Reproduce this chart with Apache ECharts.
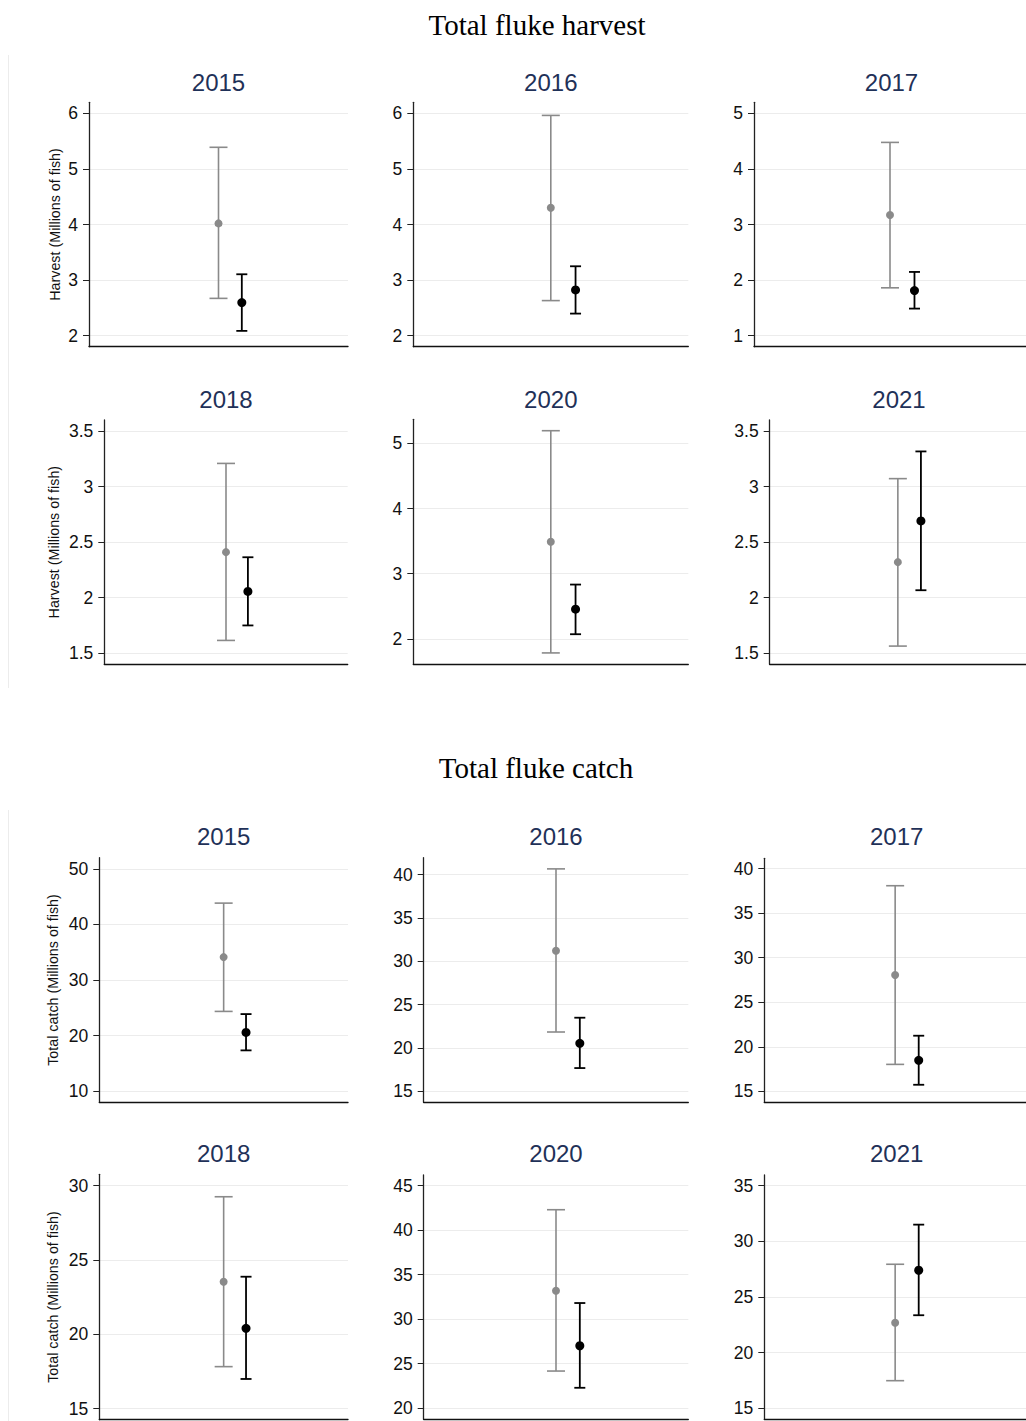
<!DOCTYPE html>
<html><head><meta charset="utf-8">
<script src="https://cdn.jsdelivr.net/npm/echarts@6/dist/echarts.min.js"></script>
<style>html,body{margin:0;padding:0;background:#fff}#c{width:1026px;height:1421px}</style>
</head><body><div id="c"></div>
<script>
// ---------- data ----------
const years = ['2015', '2016', '2017', '2018', '2020', '2021'];
const sectionTitles = ['Total fluke harvest', 'Total fluke catch'];
const yNames = ['Harvest (Millions of fish)', 'Total catch (Millions of fish)'];

// harvest (millions of fish): gray estimate with CI, black estimate with CI
const harvestGray   = [4.02, 4.30, 3.17, 2.41, 3.49, 2.32];
const harvestGrayLo = [2.67, 2.63, 1.86, 1.615, 1.785, 1.564];
const harvestGrayHi = [5.39, 5.964, 4.478, 3.209, 5.195, 3.072];
const harvestBlack   = [2.594, 2.822, 1.81, 2.056, 2.456, 2.691];
const harvestBlackLo = [2.085, 2.396, 1.486, 1.75, 2.072, 2.067];
const harvestBlackHi = [3.104, 3.248, 2.146, 2.364, 2.834, 3.317];

// catch (millions of fish)
const catchGray   = [34.12, 31.22, 28.06, 23.54, 33.2, 22.69];
const catchGrayLo = [24.35, 21.84, 18.02, 17.83, 24.18, 17.48];
const catchGrayHi = [43.83, 40.66, 38.09, 29.26, 42.3, 27.94];
const catchBlack   = [20.57, 20.53, 18.47, 20.41, 27.02, 27.4];
const catchBlackLo = [17.34, 17.68, 15.73, 17.0, 22.3, 23.36];
const catchBlackHi = [23.87, 23.49, 21.24, 23.88, 31.82, 31.5];

// tick labels
const harvestTicks = [[2,3,4,5,6],[2,3,4,5,6],[1,2,3,4,5],[1.5,2,2.5,3,3.5],[2,3,4,5],[1.5,2,2.5,3,3.5]];
const catchTicks = [[10,20,30,40,50],[15,20,25,30,35,40],[15,20,25,30,35,40],[15,20,25,30],[20,25,30,35,40,45],[15,20,25,30,35]];

// axis ranges
const harvestRange = [[1.8,6.2],[1.8,6.2],[0.8,5.2],[1.4,3.6],[1.615,5.37],[1.4,3.6]];
const catchRange = [[8,52],[13.73,41.95],[13.76,41.17],[14.26,30.77],[18.76,46.2],[14.01,35.96]];

// x positions of the two estimates on an x axis running 0..2
const groupX = [1, 1.18];

// ---------- layout ----------
const panelRects = [
  [89, 102.3, 259, 244.4], [413.3, 102.3, 275, 244.4], [754, 102.3, 275, 244.4],
  [104.3, 420, 243.4, 244.3], [413.3, 419.3, 275, 244.7], [769.7, 420, 258.6, 244.3],
  [99.3, 857.7, 248.7, 244.6], [423.7, 857.7, 264.6, 244.6], [764.3, 858.3, 264.8, 244],
  [99.3, 1174.3, 248.7, 245.4], [423.7, 1175, 264.6, 244.3], [764.3, 1175, 264.8, 244.3]
];
const panelTitleY = [82, 82, 82, 399, 399, 399, 836.7, 836.7, 836.7, 1153.3, 1153.3, 1153.3];
const nameGaps = {0: 27, 3: 43, 6: 39, 9: 39};

const FONT = 'Liberation Sans, Arial, Helvetica, sans-serif';
const SERIF = 'Liberation Serif, Times New Roman, serif';
const GRAY = '#8a8a8a', BLACK = '#000000';

const grids = [], xAxes = [], yAxes = [], series = [], titles = [];

titles.push({text: sectionTitles[0], left: 537, top: 25, padding: 0, textAlign: 'center', textVerticalAlign: 'middle',
  textStyle: {fontFamily: SERIF, fontWeight: 'normal', fontSize: 29, color: '#000'}});
titles.push({text: sectionTitles[1], left: 536, top: 768, padding: 0, textAlign: 'center', textVerticalAlign: 'middle',
  textStyle: {fontFamily: SERIF, fontWeight: 'normal', fontSize: 29, color: '#000'}});

function errRender(cap, width, color) {
  return function (params, api) {
    const x = api.value(0), lo = api.value(1), hi = api.value(2);
    const pHi = api.coord([x, hi]);
    const pLo = api.coord([x, lo]);
    const st = {stroke: color, lineWidth: width};
    return {type: 'group', children: [
      {type: 'line', shape: {x1: pHi[0], y1: pHi[1], x2: pLo[0], y2: pLo[1]}, style: st},
      {type: 'line', shape: {x1: pHi[0] - cap, y1: pHi[1], x2: pHi[0] + cap, y2: pHi[1]}, style: st},
      {type: 'line', shape: {x1: pLo[0] - cap, y1: pLo[1], x2: pLo[0] + cap, y2: pLo[1]}, style: st}
    ]};
  };
}

for (let p = 0; p < 12; p++) {
  const sec = p < 6 ? 0 : 1;
  const k = p % 6;
  const r = panelRects[p];
  const ticks = sec === 0 ? harvestTicks[k] : catchTicks[k];
  const range = sec === 0 ? harvestRange[k] : catchRange[k];
  const gMid = sec === 0 ? harvestGray[k] : catchGray[k];
  const gLo = sec === 0 ? harvestGrayLo[k] : catchGrayLo[k];
  const gHi = sec === 0 ? harvestGrayHi[k] : catchGrayHi[k];
  const bMid = sec === 0 ? harvestBlack[k] : catchBlack[k];
  const bLo = sec === 0 ? harvestBlackLo[k] : catchBlackLo[k];
  const bHi = sec === 0 ? harvestBlackHi[k] : catchBlackHi[k];

  grids.push({left: r[0], top: r[1], width: r[2], height: r[3], containLabel: false});
  titles.push({text: years[k], left: r[0] + r[2] / 2, top: panelTitleY[p], padding: 0,
    textAlign: 'center', textVerticalAlign: 'middle',
    textStyle: {fontFamily: FONT, fontWeight: 'normal', fontSize: 24, color: '#1f3158'}});

  xAxes.push({gridIndex: p, type: 'value', min: 0, max: 2,
    axisLine: {show: true, onZero: false, lineStyle: {color: '#111', width: 1.3}},
    axisTick: {show: false}, axisLabel: {show: false}, splitLine: {show: false}});

  const ya = {gridIndex: p, type: 'value', min: range[0], max: range[1],
    axisLine: {show: true, onZero: false, lineStyle: {color: '#222', width: 1.3}},
    axisTick: {show: true, length: 6, customValues: ticks, lineStyle: {color: '#222', width: 1}},
    axisLabel: {customValues: ticks, fontSize: 17.5, color: '#111', margin: 11, fontFamily: FONT},
    splitLine: {show: true, lineStyle: {color: '#ececec', width: 1.2}}};
  if (nameGaps[p] !== undefined) {
    ya.name = yNames[sec];
    ya.nameLocation = 'middle';
    ya.nameGap = nameGaps[p];
    ya.nameTextStyle = {fontFamily: FONT, fontSize: 14.3, color: '#111'};
  }
  yAxes.push(ya);

  series.push({type: 'custom', xAxisIndex: p, yAxisIndex: p, renderItem: errRender(9, 1.6, GRAY),
    data: [[groupX[0], gLo, gHi]], silent: true, z: 2});
  series.push({type: 'custom', xAxisIndex: p, yAxisIndex: p, renderItem: errRender(5.5, 1.8, BLACK),
    data: [[groupX[1], bLo, bHi]], silent: true, z: 2});
  series.push({type: 'scatter', xAxisIndex: p, yAxisIndex: p, symbolSize: 8,
    itemStyle: {color: GRAY, opacity: 1}, data: [[groupX[0], gMid]], silent: true, z: 3});
  series.push({type: 'scatter', xAxisIndex: p, yAxisIndex: p, symbolSize: 9,
    itemStyle: {color: BLACK, opacity: 1}, data: [[groupX[1], bMid]], silent: true, z: 3});
}

const chart = echarts.init(document.getElementById('c'), null, {renderer: 'svg', width: 1026, height: 1421});
chart.setOption({
  backgroundColor: '#ffffff',
  animation: false,
  title: titles,
  grid: grids,
  xAxis: xAxes,
  yAxis: yAxes,
  series: series,
  graphic: [
    {type: 'line', shape: {x1: 8.5, y1: 55, x2: 8.5, y2: 688}, style: {stroke: '#ececec', lineWidth: 1}},
    {type: 'line', shape: {x1: 8.5, y1: 810, x2: 8.5, y2: 1421}, style: {stroke: '#ececec', lineWidth: 1}}
  ]
});
</script></body></html>
